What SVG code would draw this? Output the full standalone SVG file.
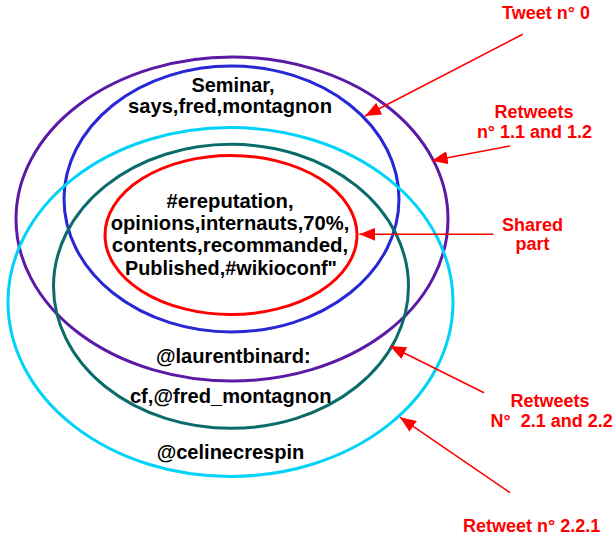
<svg xmlns="http://www.w3.org/2000/svg" width="615" height="537" viewBox="0 0 615 537">
<style>
.ring{fill:none;stroke-width:3}
.t{font-family:"Liberation Sans",Arial,sans-serif;font-weight:bold;font-size:21px;fill:#000;text-anchor:middle}
.lbl{font-family:"Liberation Sans",Arial,sans-serif;font-weight:bold;font-size:18px;fill:#ff0000;text-anchor:middle;white-space:pre}
.arr{stroke:#ff0000;stroke-width:1.6;fill:none;marker-end:url(#ah)}
</style>
<defs>
<marker id="ah" markerUnits="userSpaceOnUse" markerWidth="17" markerHeight="13" refX="16" refY="6.5" orient="auto">
<path d="M0,0 L16,6.5 L0,13 Z" fill="#ff0000"/>
</marker>
</defs>
<rect width="615" height="537" fill="#fff"/>
<g id="rings">
<g id="tweet0"><ellipse class="ring" cx="232" cy="219" rx="216" ry="162" stroke="#5a1aa6"/></g>
<g id="retweet1"><ellipse class="ring" cx="231.5" cy="199" rx="167.5" ry="133" stroke="#2727d6"/></g>
<g id="retweet221"><ellipse class="ring" cx="230.5" cy="302" rx="222.5" ry="174.5" stroke="#00d2f8"/></g>
<g id="retweet2"><ellipse class="ring" cx="231" cy="286.3" rx="177.5" ry="142" stroke="#0b6b6b"/></g>
<g id="shared"><ellipse class="ring" cx="231" cy="235" rx="126" ry="79.5" stroke="#ff0000"/></g>
</g>
<g id="texts">
<text class="t" x="233" y="91.7" textLength="83" lengthAdjust="spacingAndGlyphs">Seminar,</text>
<text class="t" x="230" y="113" textLength="204" lengthAdjust="spacingAndGlyphs">says,fred,montagnon</text>
<text class="t" x="230" y="208" textLength="127" lengthAdjust="spacingAndGlyphs">#ereputation,</text>
<text class="t" x="230" y="230" textLength="238.5" lengthAdjust="spacingAndGlyphs">opinions,internauts,70%,</text>
<text class="t" x="230" y="252" textLength="236.5" lengthAdjust="spacingAndGlyphs">contents,recommanded,</text>
<text class="t" x="231" y="274.5" textLength="212" lengthAdjust="spacingAndGlyphs">Published,#wikioconf"</text>
<text class="t" x="233.3" y="362.7" textLength="154.7" lengthAdjust="spacingAndGlyphs">@laurentbinard:</text>
<text class="t" x="230.8" y="402.7" textLength="201.7" lengthAdjust="spacingAndGlyphs">cf,@fred_montagnon</text>
<text class="t" x="230.5" y="458.8" textLength="147.7" lengthAdjust="spacingAndGlyphs">@celinecrespin</text>
</g>
<g id="labels">
<text class="lbl" x="546" y="19">Tweet n° 0</text>
<text class="lbl" x="534" y="118.3">Retweets</text>
<text class="lbl" x="534.5" y="138.3">n° 1.1 and 1.2</text>
<text class="lbl" x="532.5" y="231">Shared</text>
<text class="lbl" x="532.5" y="250">part</text>
<text class="lbl" x="550" y="407.3">Retweets</text>
<text class="lbl" x="551.7" y="427.3">N°  2.1 and 2.2</text>
<text class="lbl" x="531.7" y="531.7">Retweet n° 2.2.1</text>
</g>
<g id="connectors">
<line class="arr" x1="522.7" y1="34.3" x2="365" y2="116"/>
<line class="arr" x1="510" y1="146" x2="431.7" y2="160.7"/>
<line class="arr" x1="493.3" y1="234.3" x2="359.3" y2="234.3"/>
<line class="arr" x1="484" y1="392.7" x2="390" y2="346"/>
<line class="arr" x1="510" y1="492.7" x2="400" y2="417.3"/>
</g>
</svg>
